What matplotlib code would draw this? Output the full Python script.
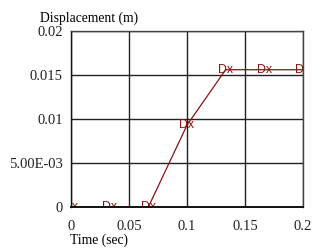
import matplotlib
matplotlib.use("Agg")
import matplotlib.pyplot as plt

time_sec = [0, 0.0333, 0.0667, 0.1, 0.1333, 0.1667, 0.2]
displacement = [0, 0, 0, 0.0093, 0.0156, 0.0156, 0.0156]
point_labels = ["Dx"] * len(time_sec)
x_ticks = [0, 0.05, 0.1, 0.15, 0.2]
x_tick_labels = ["0", "0.05", "0.1", "0.15", "0.2"]
y_ticks = [0, 0.005, 0.01, 0.015, 0.02]
y_tick_labels = ["0", "5.00E-03", "0.01", "0.015", "0.02"]

serif = ["Liberation Serif", "DejaVu Serif"]
red = "#8c1010"

fig = plt.figure(figsize=(3.14, 2.48), dpi=100)
ax = fig.add_axes([71/314, 1-207/248, (303-71)/314, (207-31)/248])
ax.plot(time_sec, displacement, color=red, lw=0.9, zorder=2)
for t, d, lab in zip(time_sec, displacement, point_labels):
    txt = ax.text(t, d, lab, color=red, fontsize=8.8, ha="center", va="center",
                  family=["Liberation Sans", "DejaVu Sans"], zorder=2.2)
    txt.set_clip_path(ax.patch)
    txt.set_clip_on(True)

ax.set_xlim(0, 0.2)
ax.set_ylim(0, 0.02)
ax.set_xticks(x_ticks)
ax.set_xticklabels(x_tick_labels, family=serif, fontsize=10.5)
ax.set_yticks(y_ticks)
ax.set_yticklabels(y_tick_labels, family=serif, fontsize=10.5)
ax.tick_params(axis="both", length=0, colors="#222222")
ax.tick_params(axis="x", pad=9)
ax.tick_params(axis="y", pad=6)
ax.grid(True, color="#222222", lw=1.0)
for s in ax.spines.values():
    s.set_color("#444444")
    s.set_linewidth(1.0)
    s.set_zorder(3)
ax.spines["left"].set_color("#111111")
ax.spines["bottom"].set_color("#111111")
ax.spines["bottom"].set_linewidth(1.4)

fig.text(89/314, 1-18/248, "Displacement (m)", family=serif, fontsize=9.8,
         ha="center", va="center")
fig.text(99/314, 1-240/248, "Time (sec)", family=serif, fontsize=9.8,
         ha="center", va="center")

fig.savefig("out.png", dpi=100)
